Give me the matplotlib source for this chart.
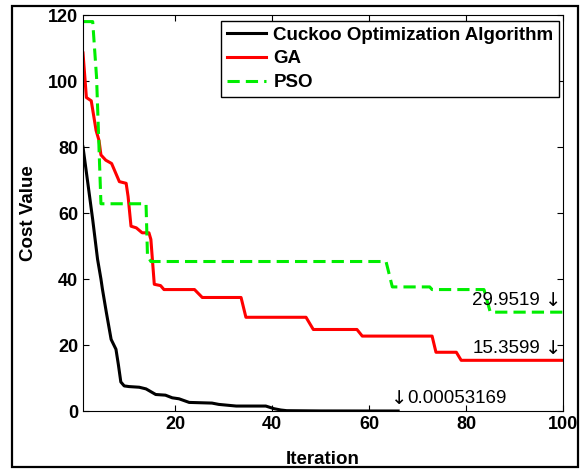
import matplotlib.pyplot as plt
from matplotlib.patches import Rectangle

# data
coa_x = [1, 2, 3, 4, 4.7, 5, 5.8, 6.8, 7.8, 8.3, 8.8, 9.5, 10.5, 12.6, 14, 16, 18, 19.4, 20.8,
         22.9, 27.6, 29, 32.6, 38.7, 40.4, 41.8, 43, 50, 60, 66]
coa_y = [80, 69, 58, 46, 40, 37, 30, 21.7, 18.7, 14, 8.8, 7.6, 7.4, 7.2, 6.7, 5, 4.8, 4, 3.7,
         2.6, 2.4, 2, 1.5, 1.5, 0.7, 0.3, 0.1, 0.02, 0.005, 0.00053169]

ga_x = [1, 1.7, 2.7, 3.7, 4.3, 4.7, 5.7, 6.9, 8.5, 9.9, 10.3, 10.9, 12, 13.2, 14.6, 15, 15.7,
        17, 17.7, 24, 25.6, 33.6, 34.6, 47, 48.5, 57.5, 58.6, 73, 73.8, 78, 79, 100]
ga_y = [108.5, 95, 94, 85, 82, 77.6, 76, 75, 69.5, 69, 65, 56, 55.5, 54, 54, 52, 38.4,
        38, 36.8, 36.8, 34.4, 34.4, 28.4, 28.4, 24.7, 24.7, 22.7, 22.7, 17.8, 17.8, 15.3599, 15.3599]

pso_x = [1, 3, 3.8, 4.7, 14, 14.3, 15, 63.5, 64.8, 72.5, 73, 83.7, 85, 100]
pso_y = [118, 118, 101, 62.8, 62.8, 47, 45.3, 45.3, 37.6, 37.6, 36.8, 36.8, 29.9519, 29.9519]

labels = ['Cuckoo Optimization Algorithm', 'GA', 'PSO']

plt.rcParams['font.family'] = ['Liberation Sans', 'DejaVu Sans']

fig = plt.figure(figsize=(5.82, 4.70), dpi=100)
ax = fig.add_axes([83/582, 1 - 411/470, 480/582, 396/470])

ax.plot(coa_x, coa_y, color='black', lw=2.2, label=labels[0])
ax.plot(ga_x, ga_y, color='red', lw=2.2, label=labels[1])
ax.plot(pso_x, pso_y, color='#00ee00', lw=2.2, ls='--', dashes=(4, 2), label=labels[2])

ax.set_xlim(1, 100)
ax.set_ylim(0, 120)
ax.set_xticks([20, 40, 60, 80, 100])
ax.set_yticks([0, 20, 40, 60, 80, 100, 120])
ax.tick_params(direction='in', length=4, top=True, right=True, labelsize=13)
for t in ax.get_xticklabels() + ax.get_yticklabels():
    t.set_fontweight('bold')

ax.set_xlabel('Iteration', fontsize=13.5, fontweight='bold', labelpad=13)
ax.set_ylabel('Cost Value', fontsize=13.5, fontweight='bold', labelpad=8)

# end value annotations (arrow drawn in DejaVu Sans, it is taller there)
arrow_font = {'family': 'DejaVu Sans', 'size': 14}
for val, yy in [(pso_y[-1], 33.4), (ga_y[-1], 18.8)]:
    ax.text(99.6, yy, '\u2193', ha='right', va='center', fontdict=arrow_font)
    ax.annotate('%.4f' % val, (99.6, yy), xytext=(-15, 0), textcoords='offset points',
                ha='right', va='center', fontsize=13.5)
ax.text(64.5, 3.9, '\u2193', ha='left', va='center', fontdict=arrow_font)
ax.annotate('%.8f' % coa_y[-1], (64.5, 3.9), xytext=(12, 0), textcoords='offset points',
            ha='left', va='center', fontsize=13.5)

leg = ax.legend(loc='upper right', bbox_to_anchor=(0.992, 0.985), borderaxespad=0,
                prop={'weight': 'bold', 'size': 13.5}, fancybox=False, framealpha=1,
                edgecolor='black', handlelength=2.1, labelspacing=0.35, borderpad=0.3,
                handletextpad=0.4)
leg.get_frame().set_linewidth(1)

# outer frame round the figure
fig.patches.append(Rectangle((12/582, 3/470), 566/582, 461/470, transform=fig.transFigure,
                             fill=False, edgecolor='black', lw=1.6))

fig.savefig('out.png', dpi=100)
